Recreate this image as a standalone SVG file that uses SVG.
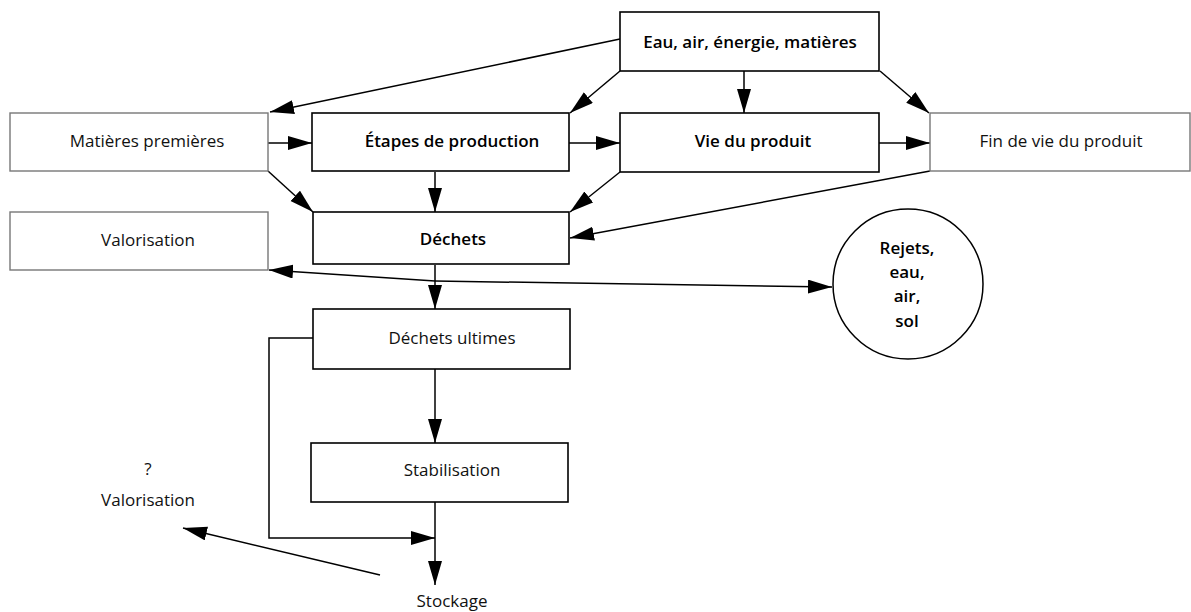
<svg xmlns="http://www.w3.org/2000/svg" width="1191" height="612" viewBox="0 0 1191 612">
<defs>
<style>
.box{fill:#fff;stroke:#000;stroke-width:1.6}
.lbox{fill:#fff;stroke:#777;stroke-width:1.4}
.t{font-family:"Open Sans","Liberation Sans",sans-serif;font-size:17px;fill:#111;text-anchor:middle}
.b{font-weight:600;fill:#000}
.c{fill:none;stroke:#000;stroke-width:1.5}
</style>
<marker id="ah" markerUnits="userSpaceOnUse" markerWidth="26" markerHeight="15" refX="24" refY="7" orient="auto">
<path d="M0,0 L24,7 L0,14 z" fill="#000"/>
</marker>
</defs>
<rect width="1191" height="612" fill="#fff"/>
<g id="connectors">
<line class="c" x1="620" y1="39" x2="270" y2="112" marker-end="url(#ah)"/>
<line class="c" x1="620" y1="71" x2="570" y2="113" marker-end="url(#ah)"/>
<line class="c" x1="744" y1="71" x2="744" y2="113" marker-end="url(#ah)"/>
<line class="c" x1="880" y1="71" x2="929" y2="113" marker-end="url(#ah)"/>
<line class="c" x1="268" y1="143" x2="312" y2="143" marker-end="url(#ah)"/>
<line class="c" x1="569" y1="143" x2="620" y2="143" marker-end="url(#ah)"/>
<line class="c" x1="879" y1="143" x2="930" y2="143" marker-end="url(#ah)"/>
<line class="c" x1="268" y1="171" x2="313" y2="212" marker-end="url(#ah)"/>
<line class="c" x1="435" y1="172" x2="435" y2="212" marker-end="url(#ah)"/>
<line class="c" x1="620" y1="172" x2="570" y2="212" marker-end="url(#ah)"/>
<line class="c" x1="930" y1="171" x2="570" y2="238" marker-end="url(#ah)"/>
<line class="c" x1="435" y1="265" x2="435" y2="309" marker-end="url(#ah)"/>
<line class="c" x1="435" y1="281" x2="269" y2="270" marker-end="url(#ah)"/>
<line class="c" x1="435" y1="281" x2="832" y2="287" marker-end="url(#ah)"/>
<line class="c" x1="435" y1="369" x2="435" y2="443" marker-end="url(#ah)"/>
<polyline class="c" points="313,338 269,338 269,538 435,538" marker-end="url(#ah)"/>
<line class="c" x1="435" y1="502" x2="435" y2="585" marker-end="url(#ah)"/>
<line class="c" x1="380" y1="575" x2="183" y2="528" marker-end="url(#ah)"/>
</g>
<g id="eau"><rect class="box" x="620" y="12" width="259" height="59"/><text class="t b" x="750" y="48">Eau, air, énergie, matières</text></g>
<g id="matieres"><rect class="lbox" x="10" y="113" width="258" height="58"/><text class="t" x="147" y="147">Matières premières</text></g>
<g id="etapes"><rect class="box" x="312" y="113" width="257" height="58"/><text class="t b" x="452" y="147">Étapes de production</text></g>
<g id="vie"><rect class="box" x="620" y="113" width="259" height="59"/><text class="t b" x="753" y="147">Vie du produit</text></g>
<g id="fin"><rect class="lbox" x="930" y="113" width="260" height="58"/><text class="t" x="1061" y="147">Fin de vie du produit</text></g>
<g id="valorisation"><rect class="lbox" x="10" y="212" width="258" height="58"/><text class="t" x="148" y="246">Valorisation</text></g>
<g id="dechets"><rect class="box" x="313" y="212" width="256" height="52"/><text class="t b" x="453" y="245">Déchets</text></g>
<g id="rejets"><circle cx="908" cy="284" r="75" fill="#fff" stroke="#000" stroke-width="1.5"/>
<text class="t b" x="907" y="254">Rejets,</text><text class="t b" x="907" y="278">eau,</text><text class="t b" x="907" y="302">air,</text><text class="t b" x="907" y="327">sol</text></g>
<g id="ultimes"><rect class="box" x="313" y="309" width="257" height="60"/><text class="t" x="452" y="344">Déchets ultimes</text></g>
<g id="stabilisation"><rect class="box" x="311" y="443" width="257" height="59"/><text class="t" x="452" y="476">Stabilisation</text></g>
<g id="valo2"><text class="t" x="148" y="475">?</text><text class="t" x="148" y="506">Valorisation</text></g>
<g id="stockage"><text class="t" x="452" y="607">Stockage</text></g>
</svg>
